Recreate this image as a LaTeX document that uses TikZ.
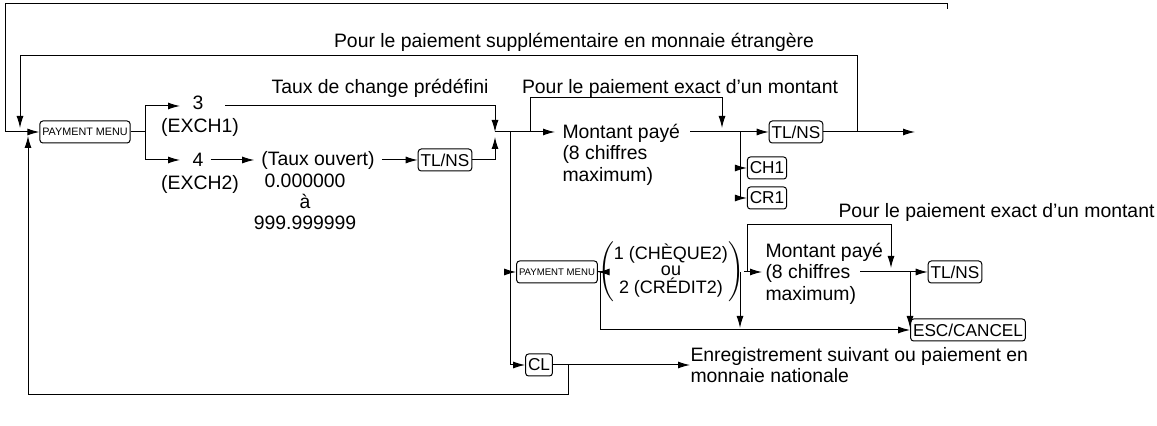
\documentclass[tikz,border=0pt]{standalone}
\usepackage{fontspec}
\setmainfont{Liberation Sans}
\usetikzlibrary{positioning,arrows.meta}
\tikzset{
  key/.style={draw,rounded corners=1.5pt,inner sep=1.2pt,minimum height=11pt,font=\fontsize{8.6}{9}\selectfont},
  smallkey/.style={key,font=\fontsize{5.4}{6}\selectfont},
  txt/.style={inner sep=0pt,align=left},
  flow/.style={-{Latex[length=6pt,width=3.5pt]}},
}
\begin{document}
\begin{tikzpicture}[x=0.5pt,y=-0.5pt,font=\fontsize{9.7}{10.6}\selectfont,line width=0.5pt]
\useasboundingbox (0,0) rectangle (1157,426);
% upper row
\node[smallkey] (pm) at (85,132) {PAYMENT MENU};
\node (three) at (198,103) {3};
\node (exa) at (200,127) {(EXCH1)};
\node (four) at (198,160) {4};
\node (exb) at (200,184) {(EXCH2)};
\node (open) at (318,160) {(Taux ouvert)};
\node[txt,align=center] (range) at (305,202) {0.000000\\à\\999.999999};
\node[key] (tla) at (445,160) {TL/NS};
\node (pre) at (380,88) {Taux de change prédéfini};
\node (sup) at (574,42) {Pour le paiement supplémentaire en monnaie étrangère};
\coordinate (j1) at (495,132);
\node[txt,anchor=north west] (amta) at (562,124) {Montant payé\\(8 chiffres\\maximum)};
\node (exa1) at (680,88) {Pour le paiement exact d’un montant};
\node[key] (tlb) at (796,132) {TL/NS};
\node[key] (ch) at (767,168) {CH1};
\node[key] (cr) at (767,198) {CR1};
\coordinate (outa) at (915,132);
% middle row
\node[smallkey,font=\fontsize{4.8}{5}\selectfont] (pmb) at (557,272) {PAYMENT MENU};
\node[inner sep=0pt,font=\fontsize{9}{10}\selectfont] (sel) at (671,272) {$\left(\mbox{\begin{tabular}{@{}c@{}}1 (CHÈQUE2)\\[-2pt]ou\\[-2pt]2 (CRÉDIT2)\end{tabular}}\right)$};
\node[txt,anchor=north west] (amtb) at (765,243) {Montant payé\\(8 chiffres\\maximum)};
\node[anchor=east,inner sep=0pt] (exa2) at (1155,212) {Pour le paiement exact d’un montant};
\node[key] (tlc) at (955,272) {TL/NS};
\node[key] (esc) at (968,330) {ESC/CANCEL};
% lower row
\node[key] (cl) at (539,365) {CL};
\node[txt,anchor=west] (next) at (690,365) {Enregistrement suivant ou paiement en\\monnaie nationale};
% connectors
\draw[flow] (5,132) -- (pm);
\draw (5,132) |- (947,4) -- (947,9);
\draw[flow] (857,132) |- (20,56) -- (20,128);
\draw (pm) -- (145,132);
\draw[flow] (145,132) -- (145,106) -- (180,106);
\draw[flow] (145,132) -- (145,160) -- (180,160);
\draw[flow] (225,106) -| (j1);
\draw[flow] (four) -- (open);
\draw[flow] (open) -- (tla);
\draw[flow] (tla) -| (495,137);
\draw (j1) -- (510,132) -- (510,365);
\draw[flow] (510,132) -- (555,132);
\draw[flow] (530,132) |- (722,98) -- (722,128);
\draw (690,132) -- (740,132);
\draw[flow] (740,132) -- (tlb);
\draw[flow] (740,132) |- (ch);
\draw[flow] (740,132) |- (cr);
\draw[flow] (tlb) -- (outa);
\draw[flow] (510,272) -- (pmb);
\draw[flow] (pmb) -- (sel);
\draw[flow] (600,272) |- (esc);
\draw[flow] (sel) -- (762,272);
\draw[flow] (740,272) -- (740,328);
\draw[flow] (747,272) |- (891,225) -- (891,268);
\draw[flow] (860,272) -- (tlc);
\draw[flow] (910,272) -- (910,328);
\draw[flow] (510,365) -- (cl);
\draw[flow] (cl) -- (next);
\draw[flow] (568,365) |- (28,395) -- (28,136);
\end{tikzpicture}
\end{document}
